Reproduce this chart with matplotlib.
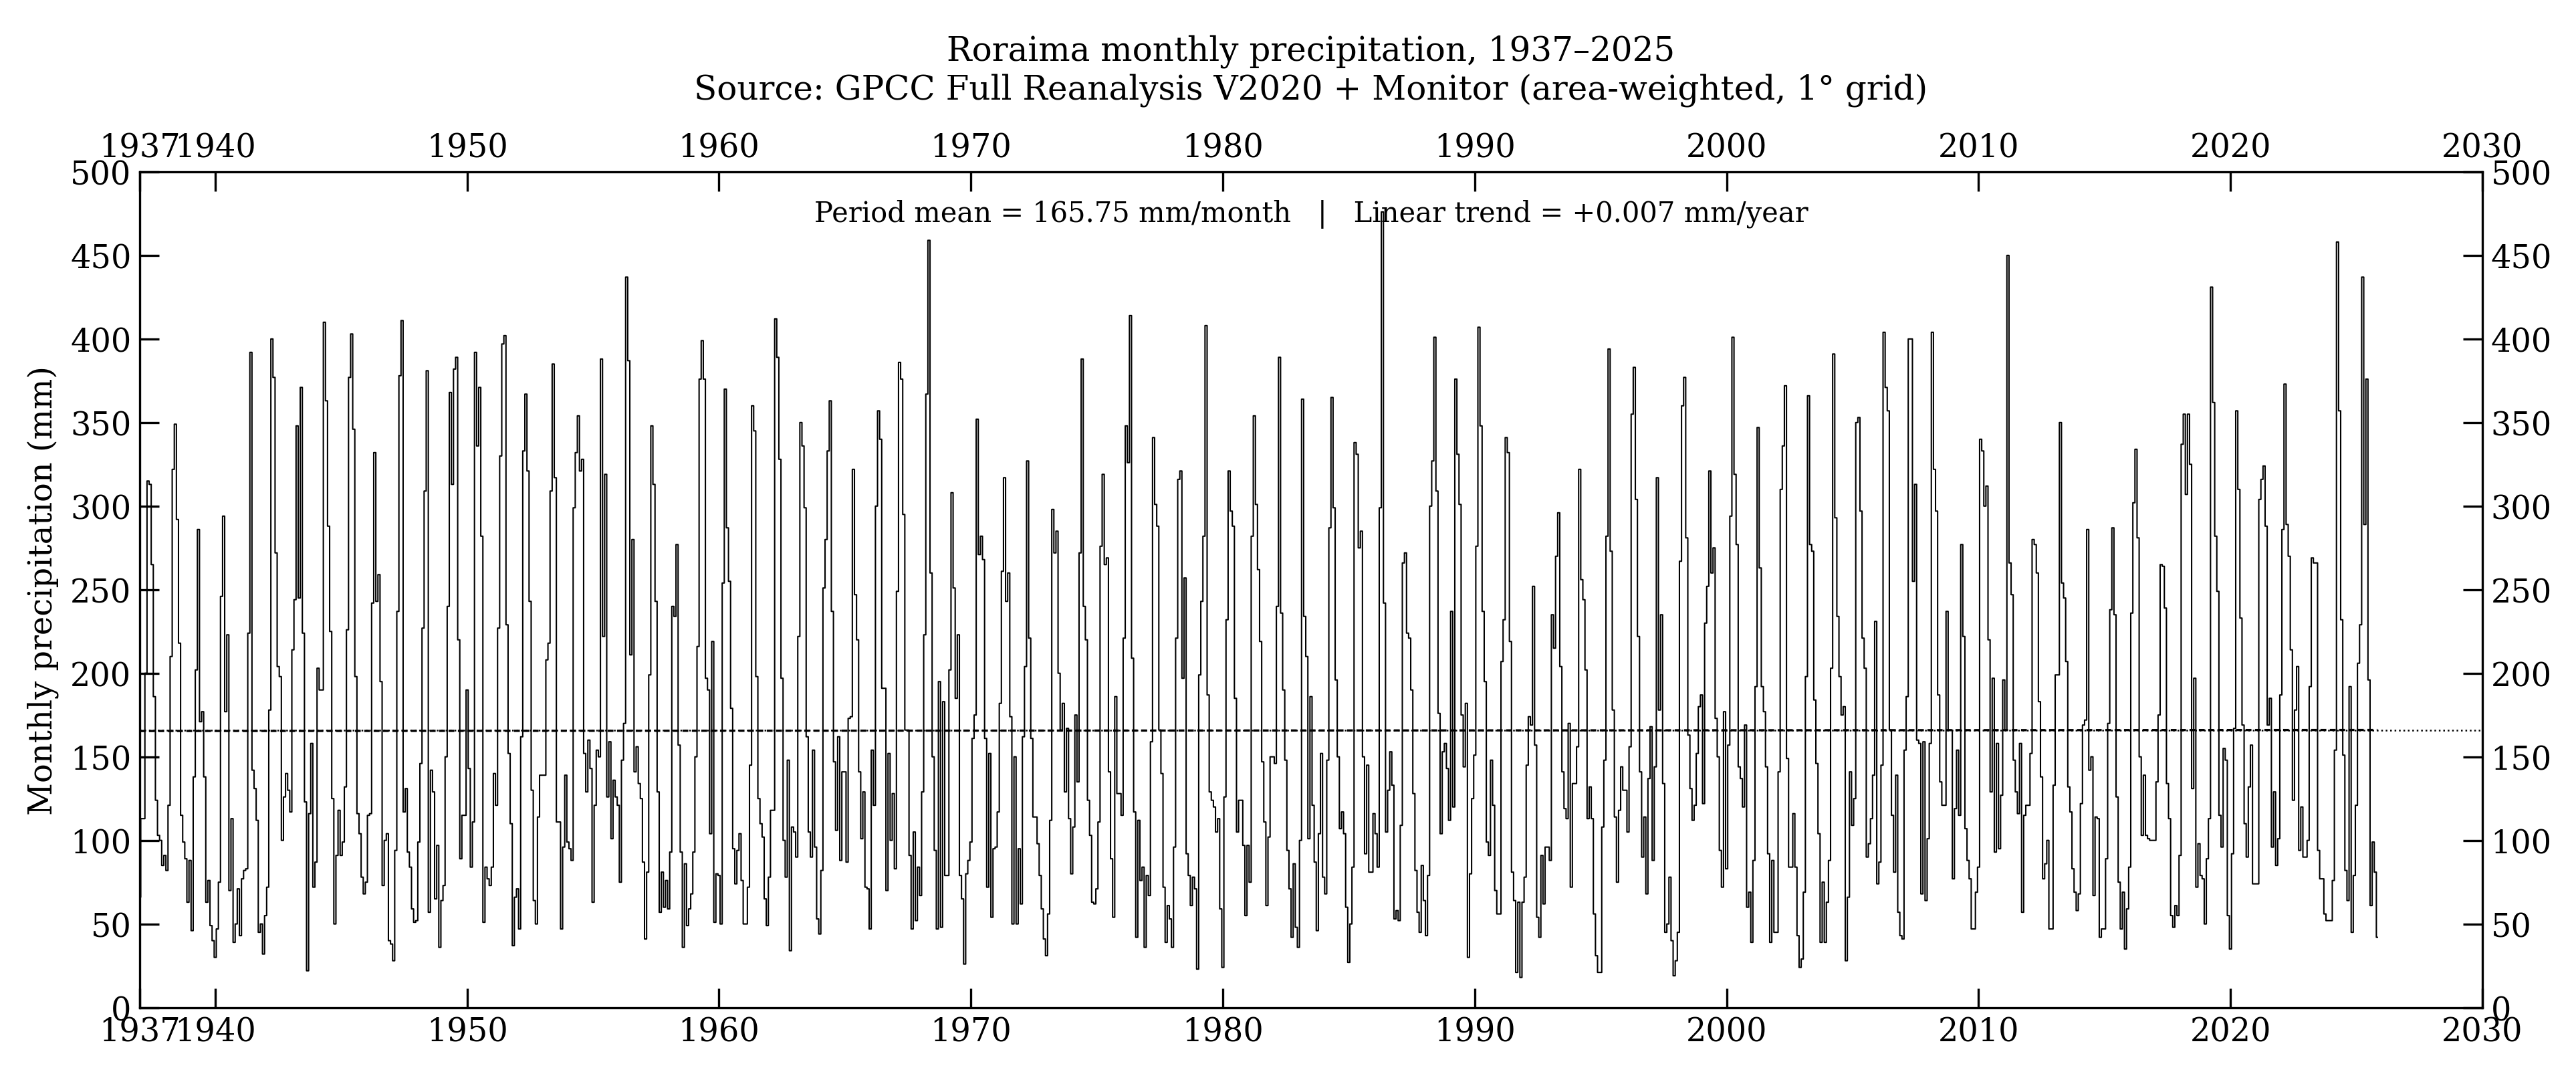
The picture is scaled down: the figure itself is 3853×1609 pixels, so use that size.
import numpy as np
import matplotlib.pyplot as plt

# Monthly precipitation (mm), Jan 1937 .. Nov 2025
p_1930s = [
    66, 113, 113, 200, 315, 313, 265, 186, 124, 103, 100, 85,    # 1937
    91, 82, 121, 210, 322, 349, 292, 218, 115, 99, 89, 63,       # 1938
    88, 46, 138, 202, 286, 171, 177, 138, 63, 76, 49, 40,        # 1939
]
p_1940s = [
    30, 47, 75, 246, 294, 177, 223, 70, 113, 39, 50, 71,
    43, 77, 82, 83, 224, 392, 142, 131, 112, 45, 50, 32,
    55, 72, 178, 400, 377, 272, 204, 198, 100, 126, 140, 130,
    117, 214, 244, 348, 245, 371, 224, 123, 22, 116, 158, 72,
    87, 203, 190, 190, 410, 363, 288, 225, 125, 50, 91, 118,
    91, 99, 132, 226, 377, 403, 346, 198, 116, 104, 78, 68,
    75, 115, 116, 242, 332, 243, 259, 195, 73, 100, 104, 40,
    38, 28, 94, 237, 378, 411, 117, 131, 93, 84, 59, 51,
    52, 99, 146, 227, 309, 381, 57, 142, 129, 65, 97, 36,
    64, 73, 150, 240, 368, 313, 382, 389, 220, 89, 115, 115,
]
p_1950s = [
    190, 143, 84, 111, 392, 336, 371, 282, 51, 84, 77, 73,
    84, 140, 121, 227, 330, 397, 402, 229, 152, 110, 37, 66,
    71, 47, 162, 333, 367, 321, 243, 130, 64, 50, 114, 139,
    139, 139, 208, 218, 309, 385, 317, 111, 111, 47, 96, 139,
    99, 95, 88, 299, 332, 354, 321, 328, 152, 129, 160, 143,
    63, 121, 154, 150, 388, 222, 319, 126, 159, 101, 136, 126,
    121, 75, 148, 170, 437, 387, 211, 280, 141, 156, 134, 125,
    87, 41, 81, 199, 348, 313, 243, 129, 57, 81, 60, 76,
    59, 93, 240, 234, 277, 157, 93, 36, 86, 49, 59, 68,
    93, 150, 216, 376, 399, 376, 197, 190, 104, 219, 51, 80,
]
p_1960s = [
    79, 50, 254, 370, 287, 255, 179, 95, 74, 94, 104, 76,
    50, 50, 72, 145, 360, 345, 198, 125, 110, 102, 65, 49,
    78, 118, 118, 412, 389, 328, 197, 100, 78, 148, 34, 108,
    105, 90, 222, 350, 336, 299, 162, 105, 90, 154, 96, 53,
    44, 82, 251, 280, 333, 363, 237, 147, 106, 162, 88, 141,
    141, 87, 173, 174, 322, 247, 220, 141, 101, 129, 72, 71,
    47, 154, 121, 300, 357, 340, 191, 191, 70, 152, 100, 128,
    83, 249, 386, 376, 295, 166, 166, 91, 47, 105, 52, 84,
    67, 129, 223, 367, 459, 260, 150, 94, 47, 195, 48, 183,
    79, 79, 202, 308, 251, 185, 223, 79, 65, 26, 80, 88,
]
p_1970s = [
    99, 161, 175, 352, 271, 282, 268, 161, 72, 152, 54, 95,
    96, 117, 182, 261, 317, 243, 260, 174, 50, 150, 50, 95,
    62, 162, 204, 327, 221, 161, 114, 114, 98, 79, 59, 41,
    31, 56, 112, 298, 272, 285, 200, 166, 182, 129, 167, 113,
    80, 108, 175, 135, 272, 388, 240, 220, 124, 103, 63, 62,
    71, 111, 276, 319, 265, 269, 141, 89, 54, 186, 128, 128,
    115, 221, 348, 326, 414, 209, 117, 42, 112, 76, 84, 36,
    79, 67, 159, 341, 301, 288, 166, 140, 72, 39, 61, 53,
    36, 96, 221, 316, 321, 197, 257, 92, 79, 61, 78, 71,
    23, 199, 243, 282, 408, 187, 129, 124, 120, 105, 113, 59,
]
p_1980s = [
    24, 126, 232, 321, 297, 288, 185, 105, 124, 124, 97, 55,
    97, 75, 282, 354, 301, 262, 219, 147, 111, 61, 102, 150,
    150, 146, 240, 389, 236, 190, 148, 94, 71, 42, 86, 48,
    36, 100, 364, 234, 210, 101, 186, 121, 87, 46, 104, 152,
    78, 68, 148, 287, 365, 299, 196, 150, 107, 117, 104, 60,
    27, 50, 84, 338, 331, 275, 285, 150, 92, 145, 81, 81,
    116, 104, 84, 299, 476, 242, 105, 130, 153, 133, 53, 58,
    52, 109, 266, 272, 224, 221, 190, 128, 82, 57, 45, 85,
    64, 43, 79, 300, 327, 401, 309, 176, 104, 153, 158, 143,
    112, 237, 120, 376, 331, 301, 175, 144, 182, 30, 80, 125,
]
p_1990s = [
    151, 276, 407, 348, 237, 195, 99, 91, 148, 121, 70, 56,
    56, 207, 232, 341, 332, 219, 81, 64, 21, 63, 18, 63,
    78, 145, 174, 169, 252, 157, 54, 42, 91, 62, 96, 96,
    88, 235, 215, 270, 296, 204, 141, 119, 113, 170, 72, 134,
    134, 156, 322, 256, 244, 202, 113, 132, 113, 56, 31, 21,
    21, 108, 148, 282, 394, 273, 178, 114, 75, 118, 144, 130,
    130, 105, 156, 355, 383, 304, 222, 141, 90, 114, 68, 137,
    168, 88, 144, 317, 178, 235, 134, 45, 50, 78, 40, 19,
    28, 45, 267, 360, 377, 281, 163, 131, 112, 121, 152, 180,
    187, 122, 230, 252, 321, 260, 275, 173, 150, 94, 72, 177,
]
p_2000s = [
    83, 157, 294, 401, 319, 277, 144, 137, 120, 169, 60, 69,
    39, 88, 192, 347, 263, 192, 177, 144, 92, 39, 88, 45,
    45, 141, 310, 336, 372, 149, 84, 84, 116, 84, 43, 24,
    29, 69, 198, 366, 277, 273, 184, 146, 104, 39, 75, 39,
    63, 88, 203, 391, 293, 234, 198, 175, 180, 28, 66, 141,
    109, 125, 350, 353, 297, 221, 203, 90, 98, 113, 139, 231,
    74, 87, 145, 404, 371, 357, 166, 115, 81, 139, 57, 43,
    41, 154, 186, 400, 400, 255, 313, 160, 158, 68, 159, 64,
    101, 158, 404, 322, 297, 187, 135, 121, 121, 237, 166, 166,
    77, 119, 154, 115, 277, 222, 107, 88, 77, 47, 47, 69,
]
p_2010s = [
    84, 340, 333, 300, 312, 220, 129, 197, 93, 158, 95, 127,
    196, 166, 450, 266, 247, 148, 129, 116, 158, 57, 115, 121,
    121, 152, 280, 277, 260, 183, 138, 77, 86, 100, 47, 47,
    133, 199, 199, 350, 254, 245, 207, 132, 117, 83, 69, 58,
    68, 122, 169, 172, 286, 142, 150, 67, 114, 113, 42, 47,
    47, 89, 170, 238, 287, 235, 126, 75, 47, 69, 35, 59,
    84, 236, 302, 334, 281, 150, 103, 139, 103, 101, 100, 100,
    100, 135, 175, 265, 264, 239, 134, 113, 55, 48, 61, 55,
    91, 337, 355, 307, 355, 325, 131, 197, 72, 98, 79, 77,
    50, 89, 113, 431, 362, 282, 249, 115, 96, 155, 148, 55,
]
p_2020s = [
    35, 92, 167, 357, 310, 233, 169, 110, 90, 132, 157, 74,
    74, 74, 304, 316, 324, 288, 169, 185, 96, 129, 85, 101,
    187, 286, 373, 289, 270, 214, 124, 178, 204, 94, 120, 90,
    90, 100, 192, 269, 266, 266, 94, 77, 77, 56, 52, 52,
    52, 76, 154, 458, 357, 232, 151, 82, 64, 192, 45, 79,
    121, 206, 229, 437, 289, 376, 196, 61, 99, 81, 42,           # 2025 (to Nov)
]

START_YEAR = 1937
PERIOD_MEAN = 165.75      # mm/month, as printed on the figure
TREND = 0.007             # mm/year, as printed on the figure

x_ticks = [1937, 1940, 1950, 1960, 1970, 1980, 1990, 2000, 2010, 2020, 2030]
y_ticks = list(range(0, 501, 50))

precip = np.array(p_1930s + p_1940s + p_1950s + p_1960s + p_1970s
                  + p_1980s + p_1990s + p_2000s + p_2010s + p_2020s, dtype=float)
t = START_YEAR + np.arange(len(precip)) / 12.0

plt.rcParams['font.family'] = ['DejaVu Serif']

fig, ax = plt.subplots(figsize=(3854 / 300, 1610 / 300), dpi=300)
fig.subplots_adjust(left=0.0542, right=0.9634, top=0.8398, bottom=0.0636)

# monthly series as steps
ax.plot(t, precip, drawstyle='steps-mid', color='k', lw=0.5)

# period mean across the whole axis, trend over the data range
ax.axhline(PERIOD_MEAN, color='k', ls=':', lw=0.6)
trend_line = PERIOD_MEAN + TREND * (t - t.mean())
ax.plot(t, trend_line, color='k', ls='--', dashes=(2.6, 1.6), lw=0.8)

ax.set_xlim(1937, 2030)
ax.set_ylim(0, 500)
ax.set_xticks(x_ticks)
ax.set_yticks(y_ticks)
ax.tick_params(direction='in', length=7, width=0.8, top=True, right=True,
               labeltop=True, labelright=True, labelsize=11.5, pad=3)
for s in ax.spines.values():
    s.set_linewidth(0.8)

ax.set_ylabel('Monthly precipitation (mm)', fontsize=11.5)
ax.set_title('Roraima monthly precipitation, 1937\u20132025\n'
             'Source: GPCC Full Reanalysis V2020 + Monitor (area-weighted, 1\u00b0 grid)',
             fontsize=12, pad=12)

ax.text(0.5, 0.95,
        f'Period mean = {PERIOD_MEAN:.2f} mm/month   |   Linear trend = +{TREND:.3f} mm/year',
        transform=ax.transAxes, ha='center', va='center', fontsize=10)

fig.savefig('out.png', dpi=300)
